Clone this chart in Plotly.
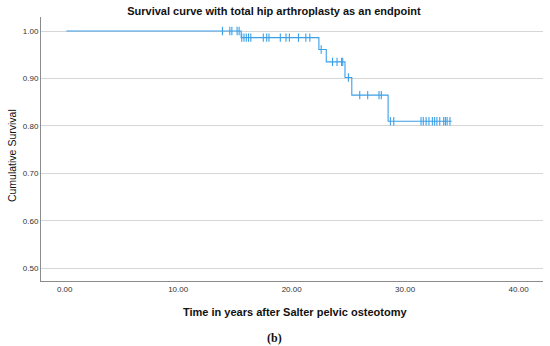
import plotly.graph_objects as go

# Kaplan-Meier step curve
start_time = 0.15
event_times = [15.55, 22.4, 23.05, 24.7, 25.3, 28.5]
levels = [1.0, 0.986, 0.961, 0.935, 0.902, 0.865, 0.810]
end_time = 34.1

# censored observations: (time, survival level)
censor_times = [13.9, 14.55, 14.73, 15.19, 15.37,
                15.6, 15.8, 16.0, 16.2, 16.4, 17.5, 17.8, 18.0, 19.0, 19.5, 19.8, 20.6, 21.25, 21.6,
                22.6,
                23.6, 24.0, 24.4, 24.5,
                25.0,
                26.0, 26.7, 27.7, 27.9,
                28.7, 29.0, 31.4, 31.6, 31.85, 32.1, 32.4, 32.6, 32.8, 33.05, 33.4, 33.55, 33.7, 33.95]
censor_levels = [1.0] * 5 + [0.986] * 14 + [0.961] + [0.935] * 4 + [0.902] + [0.865] * 4 + [0.810] * 14

y_ticks = [0.5, 0.6, 0.7, 0.8, 0.9, 1.0]
y_tick_labels = ["0.50", "0.60", "0.70", "0.80", "0.90", "1.00"]
x_ticks = [0, 10, 20, 30, 40]
x_tick_labels = ["0.00", "10.00", "20.00", "30.00", "40.00"]

xs = [start_time] + event_times + [end_time]
ys = levels + [levels[-1]]

color = "#3ba0e8"
fig = go.Figure()
fig.add_trace(go.Scatter(x=xs, y=ys, mode="lines", line=dict(color=color, width=1.1, shape="hv"),
                         hoverinfo="skip", showlegend=False))
fig.add_trace(go.Scatter(x=censor_times, y=censor_levels, mode="markers",
                         marker=dict(symbol="line-ns", size=6, color=color,
                                     line=dict(color=color, width=1.1)),
                         showlegend=False))

font = "Liberation Sans, Arial, sans-serif"
fig.update_layout(
    width=550, height=346,
    margin=dict(l=41, r=7, t=17, b=65, autoexpand=False),
    paper_bgcolor="white", plot_bgcolor="white",
    title=dict(text="<b>Survival curve with total hip arthroplasty as an endpoint</b>",
               x=0.498, xanchor="center", y=1 - 11 / 346, yanchor="middle",
               font=dict(family=font, size=11, color="#111")),
    xaxis=dict(range=[-2.09, 42.15], tickvals=x_ticks, ticktext=x_tick_labels, automargin=False,
               showgrid=False, zeroline=False, showline=True, linecolor="#8c8c8c", linewidth=1,
               ticks="", tickfont=dict(family=font, size=8, color="#333")),
    yaxis=dict(range=[0.4733, 1.0295], tickvals=y_ticks, ticktext=y_tick_labels, automargin=False,
               showgrid=True, gridcolor="#d6d6d6", gridwidth=1, zeroline=False,
               showline=True, linecolor="#8c8c8c", linewidth=1,
               ticks="", tickfont=dict(family=font, size=8, color="#333")),
    annotations=[
        dict(text="Cumulative Survival", xref="paper", yref="paper", x=-0.0578, y=0.477,
             xanchor="center", yanchor="middle", textangle=-90, showarrow=False,
             font=dict(family=font, size=10.5, color="#111")),
        dict(text="<b>Time in years after Salter pelvic osteotomy</b>", xref="paper", yref="paper",
             x=0.505, y=-0.117, xanchor="center", yanchor="middle", showarrow=False,
             font=dict(family=font, size=11, color="#111")),
        dict(text="<b>(b)</b>", xref="paper", yref="paper", x=0.466, y=-0.216,
             xanchor="center", yanchor="middle", showarrow=False,
             font=dict(family="Liberation Serif, Times New Roman, serif", size=12, color="#111")),
    ],
)

fig.write_html("out.html", config={"displayModeBar": False},
               post_script="document.body.style.margin='0px';document.body.style.overflow='hidden';")
